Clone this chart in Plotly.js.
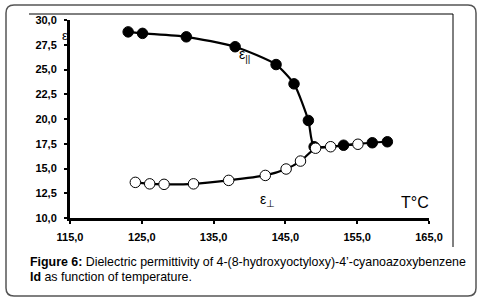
<!DOCTYPE html>
<html>
<head>
<meta charset="utf-8">
<script src="https://cdn.plot.ly/plotly-3.0.1.min.js"></script>
<style>
html,body{margin:0;padding:0;background:#fff;}
#chart{width:483px;height:300px;}
</style>
</head>
<body>
<div id="chart"></div>
<script>
// ε|| (filled circles)
var tPar = [123.1, 125.1, 131.2, 138.0, 143.7, 146.2, 148.2, 149.0, 153.1, 157.1, 159.2];
var ePar = [28.8, 28.65, 28.3, 27.3, 25.5, 23.55, 19.85, 17.2, 17.35, 17.6, 17.7];
// ε⊥ (open circles)
var tPerp = [124.1, 126.1, 128.1, 132.2, 137.1, 142.2, 145.1, 147.1, 149.2, 151.3, 155.1];
var ePerp = [13.6, 13.45, 13.4, 13.45, 13.8, 14.3, 14.95, 15.75, 17.05, 17.2, 17.45];
var xTicks = [115, 125, 135, 145, 155, 165];
var yTicks = [10, 12.5, 15, 17.5, 20, 22.5, 25, 27.5, 30];

var L = 70, R = 429, T = 20, B = 218;
function px(p){ return (p - L) / (R - L); }
function py(p){ return (B - p) / (B - T); }

var traces = [
  {x: tPar, y: ePar, mode: 'lines+markers', line: {color: '#000', width: 2.2, shape: 'spline', smoothing: 0.6},
   marker: {size: 10.5, color: '#000', line: {color: '#000', width: 1}}, showlegend: false, hoverinfo: 'skip'},
  {x: tPerp, y: ePerp, mode: 'lines+markers', line: {color: '#000', width: 2.2, shape: 'spline', smoothing: 0.6},
   marker: {size: 10.5, color: '#fff', line: {color: '#000', width: 1}}, showlegend: false, hoverinfo: 'skip'}
];

// rounded outer frame
var x0 = px(6), x1 = px(476), y0 = py(5), y1 = py(296);
var rx = 8 / (R - L), ry = 8 / (B - T);
var framePath = 'M ' + (x0 + rx) + ',' + y0 + ' L ' + (x1 - rx) + ',' + y0 +
  ' Q ' + x1 + ',' + y0 + ' ' + x1 + ',' + (y0 - ry) +
  ' L ' + x1 + ',' + (y1 + ry) + ' Q ' + x1 + ',' + y1 + ' ' + (x1 - rx) + ',' + y1 +
  ' L ' + (x0 + rx) + ',' + y1 + ' Q ' + x0 + ',' + y1 + ' ' + x0 + ',' + (y1 + ry) +
  ' L ' + x0 + ',' + (y0 - ry) + ' Q ' + x0 + ',' + y0 + ' ' + (x0 + rx) + ',' + y0 + ' Z';

var shapes = [
  {type: 'path', xref: 'paper', yref: 'paper', path: framePath, line: {color: '#555', width: 1.5}},
  {type: 'line', xref: 'paper', yref: 'paper', x0: px(29), x1: px(453), y0: py(14), y1: py(14), line: {color: '#000', width: 1}},
  {type: 'line', xref: 'paper', yref: 'paper', x0: px(453), x1: px(453), y0: py(14), y1: py(247), line: {color: '#000', width: 1}}
];

var font = 'Liberation Sans, Arial, sans-serif';
function ann(x, y, text, size, xa){
  return {xref: 'paper', yref: 'paper', x: px(x), y: py(y), text: text, showarrow: false,
    xanchor: xa || 'center', yanchor: 'middle', font: {family: font, size: size, color: '#000'}};
}
var annotations = [
  ann(65, 36, 'ε', 13),
  ann(244, 55, 'ε<sub>||</sub>', 14),
  ann(267, 200, 'ε<sub>⊥</sub>', 14),
  ann(415, 202, 'T°C', 16),
  ann(28, 262, '<b>Figure 6:</b> Dielectric permittivity of 4-(8-hydroxyoctyloxy)-4’-cyanoazoxybenzene', 12.4, 'left'),
  ann(28, 277, '<b>Id</b> as function of temperature.', 12.4, 'left')
];

var tickFont = {family: font, size: 11, color: '#000', weight: 'bold'};
var layout = {
  width: 483, height: 300,
  margin: {l: L, r: 483 - R, t: T, b: 300 - B},
  paper_bgcolor: '#fff', plot_bgcolor: '#fff',
  separators: ', ',
  font: {family: font, color: '#000'},
  xaxis: {range: [115, 165], tickvals: xTicks, tickformat: '.1f', showgrid: false, zeroline: false,
    showline: true, linecolor: '#000', linewidth: 3, ticks: 'outside', ticklen: 3, tickwidth: 2, tickcolor: '#000',
    ticklabelstandoff: 4, tickfont: tickFont},
  yaxis: {range: [10, 30], tickvals: yTicks, tickformat: '.1f', showgrid: false, zeroline: false,
    showline: true, linecolor: '#000', linewidth: 3, ticks: 'outside', ticklen: 3, tickwidth: 2, tickcolor: '#000',
    ticklabelstandoff: 5, tickfont: tickFont},
  shapes: shapes,
  annotations: annotations
};

Plotly.newPlot('chart', traces, layout, {displayModeBar: false, staticPlot: true});
</script>
</body>
</html>
